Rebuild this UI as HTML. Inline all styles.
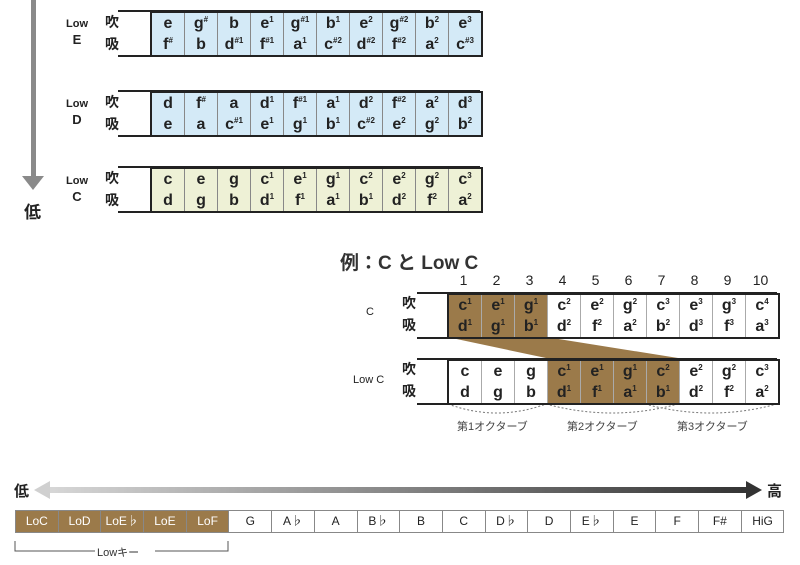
<!DOCTYPE html>
<html><head><meta charset="utf-8"><style>
body{margin:0;width:800px;height:565px;background:#fff;position:relative;overflow:hidden;font-family:"Liberation Sans","Noto Sans CJK JP",sans-serif;color:#222}
.a{position:absolute}
table{border-collapse:collapse;position:absolute;table-layout:fixed}
td{width:32px;padding:0;text-align:center;font-weight:bold;font-size:16px;line-height:21px;border-left:1.5px solid #888;border-right:1.5px solid #888}
sup{font-size:8px;vertical-align:6px;line-height:0}
.rl{position:absolute;border-top:2px solid #222;border-bottom:2px solid #222}
.lab{position:absolute;font-size:11px;font-weight:bold;text-align:center;line-height:15px}
.k{position:absolute;font-size:14px;font-weight:bold;line-height:22px}
.bl td{background:#d4eaf7}
.gr td{background:#eef1d6}
.ex td{background:#fff;border-left:1px solid #aaa;border-right:1px solid #aaa}
.ex td.br{background:#9b7a4a;color:#222}
.bt td{height:21px;font-weight:normal;font-size:12px;border:1px solid #888;width:41.7px;line-height:21px}
</style></head><body>
<div class="a" style="left:31px;top:0;width:5px;height:178px;background:#8a8a8a"></div>
<div class="a" style="left:22px;top:176px;width:0;height:0;border-left:11.5px solid transparent;border-right:11.5px solid transparent;border-top:14px solid #8a8a8a"></div>
<div class="a" style="left:24px;top:198px;font-size:17px;font-weight:bold">低</div>

<div class="rl" style="left:118px;top:10px;width:362px;height:43px"></div>
<div class="lab" style="left:62px;top:17px;width:30px">Low<br><span style="font-size:13px">E</span></div>
<div class="k" style="left:105px;top:11px">吹<br>吸</div>
<table class="bl" style="left:150px;top:11px;border:2px solid #222"><tr><td>e</td><td>g<sup>#</sup></td><td>b</td><td>e<sup>1</sup></td><td>g<sup>#1</sup></td><td>b<sup>1</sup></td><td>e<sup>2</sup></td><td>g<sup>#2</sup></td><td>b<sup>2</sup></td><td>e<sup>3</sup></td></tr>
<tr><td>f<sup>#</sup></td><td>b</td><td>d<sup>#1</sup></td><td>f<sup>#1</sup></td><td>a<sup>1</sup></td><td>c<sup>#2</sup></td><td>d<sup>#2</sup></td><td>f<sup>#2</sup></td><td>a<sup>2</sup></td><td>c<sup>#3</sup></td></tr></table>

<div class="rl" style="left:118px;top:90px;width:362px;height:43px"></div>
<div class="lab" style="left:62px;top:97px;width:30px">Low<br><span style="font-size:13px">D</span></div>
<div class="k" style="left:105px;top:91px">吹<br>吸</div>
<table class="bl" style="left:150px;top:91px;border:2px solid #222"><tr><td>d</td><td>f<sup>#</sup></td><td>a</td><td>d<sup>1</sup></td><td>f<sup>#1</sup></td><td>a<sup>1</sup></td><td>d<sup>2</sup></td><td>f<sup>#2</sup></td><td>a<sup>2</sup></td><td>d<sup>3</sup></td></tr>
<tr><td>e</td><td>a</td><td>c<sup>#1</sup></td><td>e<sup>1</sup></td><td>g<sup>1</sup></td><td>b<sup>1</sup></td><td>c<sup>#2</sup></td><td>e<sup>2</sup></td><td>g<sup>2</sup></td><td>b<sup>2</sup></td></tr></table>

<div class="rl" style="left:118px;top:166px;width:362px;height:43px"></div>
<div class="lab" style="left:62px;top:174px;width:30px">Low<br><span style="font-size:13px">C</span></div>
<div class="k" style="left:105px;top:167px">吹<br>吸</div>
<table class="gr" style="left:150px;top:167px;border:2px solid #222"><tr><td>c</td><td>e</td><td>g</td><td>c<sup>1</sup></td><td>e<sup>1</sup></td><td>g<sup>1</sup></td><td>c<sup>2</sup></td><td>e<sup>2</sup></td><td>g<sup>2</sup></td><td>c<sup>3</sup></td></tr>
<tr><td>d</td><td>g</td><td>b</td><td>d<sup>1</sup></td><td>f<sup>1</sup></td><td>a<sup>1</sup></td><td>b<sup>1</sup></td><td>d<sup>2</sup></td><td>f<sup>2</sup></td><td>a<sup>2</sup></td></tr></table>

<div class="a" style="left:340px;top:248px;font-size:19px;font-weight:bold;color:#333">例：C と Low C</div>
<div class="a" style="left:447px;top:272px;width:330px;display:flex;font-size:14px">
<span style="width:33px;text-align:center">1</span><span style="width:33px;text-align:center">2</span><span style="width:33px;text-align:center">3</span><span style="width:33px;text-align:center">4</span><span style="width:33px;text-align:center">5</span><span style="width:33px;text-align:center">6</span><span style="width:33px;text-align:center">7</span><span style="width:33px;text-align:center">8</span><span style="width:33px;text-align:center">9</span><span style="width:33px;text-align:center">10</span></div>
<svg class="a" style="left:0;top:0" width="800" height="565">
<polygon points="447,337 546,337 678,358 546,358" fill="#9b7a4a"/>
<g fill="none" stroke="#777" stroke-dasharray="2,2" stroke-width="1">
<path d="M448,404 Q497,422 546,404"/>
<path d="M546,404 Q612,422 678,404"/>
<path d="M645,404 Q711,422 777,404"/>
</g>
<defs><linearGradient id="g" x1="0" x2="1"><stop offset="0" stop-color="#d8d8d8"/><stop offset="1" stop-color="#333"/></linearGradient></defs>
<rect x="44" y="487" width="704" height="6" fill="url(#g)"/>
<polygon points="34,490 50,481 50,499" fill="#d0d0d0"/>
<polygon points="762,490 746,481 746,499" fill="#333"/>
<path d="M15,541 V551 H228 V541" fill="none" stroke="#555" stroke-width="1"/>
<rect x="95" y="545" width="60" height="10" fill="#fff"/>
</svg>
<div class="rl" style="left:417px;top:292px;width:360px;height:43px"></div>
<div class="a" style="left:366px;top:306px;font-size:11px">C</div>
<div class="k" style="left:402px;top:292px">吹<br>吸</div>
<table class="ex" style="left:447px;top:293px;border:2px solid #222"><tr><td class="br">c<sup>1</sup></td><td class="br">e<sup>1</sup></td><td class="br">g<sup>1</sup></td><td>c<sup>2</sup></td><td>e<sup>2</sup></td><td>g<sup>2</sup></td><td>c<sup>3</sup></td><td>e<sup>3</sup></td><td>g<sup>3</sup></td><td>c<sup>4</sup></td></tr>
<tr><td class="br">d<sup>1</sup></td><td class="br">g<sup>1</sup></td><td class="br">b<sup>1</sup></td><td>d<sup>2</sup></td><td>f<sup>2</sup></td><td>a<sup>2</sup></td><td>b<sup>2</sup></td><td>d<sup>3</sup></td><td>f<sup>3</sup></td><td>a<sup>3</sup></td></tr></table>

<div class="rl" style="left:417px;top:358px;width:360px;height:43px"></div>
<div class="a" style="left:353px;top:374px;font-size:11px">Low C</div>
<div class="k" style="left:402px;top:358px">吹<br>吸</div>
<table class="ex" style="left:447px;top:359px;border:2px solid #222"><tr><td>c</td><td>e</td><td>g</td><td class="br">c<sup>1</sup></td><td class="br">e<sup>1</sup></td><td class="br">g<sup>1</sup></td><td class="br">c<sup>2</sup></td><td>e<sup>2</sup></td><td>g<sup>2</sup></td><td>c<sup>3</sup></td></tr>
<tr><td>d</td><td>g</td><td>b</td><td class="br">d<sup>1</sup></td><td class="br">f<sup>1</sup></td><td class="br">a<sup>1</sup></td><td class="br">b<sup>1</sup></td><td>d<sup>2</sup></td><td>f<sup>2</sup></td><td>a<sup>2</sup></td></tr></table>
<div class="a" style="left:457px;top:418px;font-size:11px;color:#444">第1オクターブ</div>
<div class="a" style="left:567px;top:418px;font-size:11px;color:#444">第2オクターブ</div>
<div class="a" style="left:677px;top:418px;font-size:11px;color:#444">第3オクターブ</div>

<div class="a" style="left:14px;top:480px;font-size:15px;font-weight:bold">低</div>
<div class="a" style="left:767px;top:480px;font-size:15px;font-weight:bold">高</div>
<table class="bt" style="left:15px;top:510px;width:768px"><tr>
<td style="background:#9b7a4a;color:#fff">LoC</td><td style="background:#9b7a4a;color:#fff">LoD</td><td style="background:#9b7a4a;color:#fff">LoE♭</td><td style="background:#9b7a4a;color:#fff">LoE</td><td style="background:#9b7a4a;color:#fff">LoF</td>
<td>G</td><td>A♭</td><td>A</td><td>B♭</td><td>B</td><td>C</td><td>D♭</td><td>D</td><td>E♭</td><td>E</td><td>F</td><td>F#</td><td>HiG</td></tr></table>
<div class="a" style="left:97px;top:544px;font-size:11px;color:#333">Lowキー</div>
</body></html>
